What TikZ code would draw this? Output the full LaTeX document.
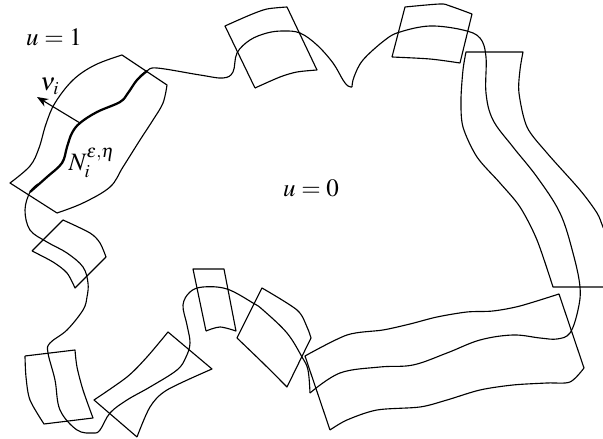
\documentclass[tikz,border=0pt]{standalone}
\usepackage{mathptmx}
\usetikzlibrary{arrows.meta}
\begin{document}
\begin{tikzpicture}[x=0.4pt,y=-0.4pt,line join=round,
  thinline/.style={line width=0.45pt},
  thickline/.style={line width=0.9pt},
  lbl/.style={inner sep=0pt}]
\useasboundingbox (0,0) rectangle (603,439);
\clip (0,0) rectangle (603,439);
% ---------- boxes ----------
% box 1 (N_i)
\draw[thinline] (57,213) -- (10,183)
  -- plot[smooth,tension=0.6] coordinates {(10,183) (30,166) (39,148) (46,124) (55,103) (73,80) (95,65) (122,55)}
  -- (167,85)
  -- plot[smooth,tension=0.6] coordinates {(167,85) (163,103) (153,120) (140,140) (123,167) (110,187) (83,203) (57,213)};
% box 2
\draw[thinline] (255,88) -- (225,26)
  -- plot[smooth] coordinates {(225,26) (250,15) (267,9) (287,7)}
  -- (317,70)
  -- plot[smooth] coordinates {(317,70) (297,72) (280,77) (255,88)};
% box 3
\draw[thinline] (392,57) -- (405,7)
  -- plot[smooth] coordinates {(405,7) (440,4) (450,6) (472,14)}
  -- (460,63)
  -- plot[smooth] coordinates {(460,63) (430,59) (392,57)};
% box 4 (right strip)
\draw[thinline] (620,287) -- (553,287)
  -- plot[smooth] coordinates {(553,287) (537,240) (520,207) (500,183) (477,157) (463,127) (461,100) (463,70) (466,52)}
  -- (523,52)
  -- plot[smooth] coordinates {(523,52) (520,70) (519,93) (527,127) (547,153) (580,190) (597,213) (603,227) (615,255)};
% box 5
\draw[thinline] (32,251) -- (63,220)
  -- plot[smooth] coordinates {(63,220) (90,233) (100,243) (106,257)}
  -- (75,288)
  -- plot[smooth] coordinates {(75,288) (67,273) (53,262) (32,251)};
% box 6
\draw[thinline] (25,356) -- (75,350)
  -- plot[smooth] coordinates {(75,350) (77,367) (83,390) (93,418)}
  -- (44,424)
  -- plot[smooth] coordinates {(44,424) (30,400) (26,377) (25,356)};
% box 7
\draw[thinline] (137,437) -- (94,400)
  -- plot[smooth] coordinates {(94,400) (127,377) (147,357) (168,332)}
  -- (212,369)
  -- plot[smooth] coordinates {(212,369) (167,390) (150,407) (137,437)};
% box 8
\draw[thinline] (206,331) -- (193,269) -- (224,269) -- (236,331)
  -- plot[smooth] coordinates {(236,331) (220,327) (206,331)};
% box 9
\draw[thinline] (237,338) -- (262,288)
  -- plot[smooth] coordinates {(262,288) (297,310) (307,327) (311,338)}
  -- (287,387)
  -- plot[smooth] coordinates {(287,387) (263,363) (237,338)};
% box 10 (long wavy strip)
\draw[thinline] (330,430) -- (305,356)
  -- plot[smooth] coordinates {(305,356) (347,335) (383,330) (410,324) (437,317) (467,312) (493,311) (520,306) (559,294)}
  -- (584,368)
  -- plot[smooth] coordinates {(584,368) (570,382) (547,383) (513,385) (480,390) (447,400) (420,407) (377,410) (347,420) (330,430)};
% ---------- main interface curve ----------
\draw[thinline] plot[smooth,tension=0.6] coordinates {(140,76) (147,71) (157,68) (200,75) (223,78) (233,72) (237,53) (250,40) (267,33) (283,31) (300,33) (317,45) (333,63) (343,80) (348,86) (352,87)};
\draw[thinline] plot[smooth,tension=0.6] coordinates {(352,87) (354,77) (363,60) (385,40) (400,32) (430,26) (463,30) (480,38) (486,57) (486,93) (493,120) (513,147) (537,177) (560,213) (573,253) (580,287) (578,310) (570,333) (557,339) (540,338) (513,335) (480,340) (447,353) (413,365) (380,367) (340,373) (310,393)};
\draw[thinline] plot[smooth,tension=0.6] coordinates {(310,393) (308,370) (302,357) (287,333) (263,310) (253,303) (227,289) (203,287) (190,292) (183,305) (187,325) (190,343) (186,357) (177,370) (150,387) (127,400) (110,413) (100,430) (93,433) (77,430) (60,410) (55,380) (48,353) (50,343) (67,330) (83,310) (87,297) (88,283) (83,267) (67,253) (47,242) (30,230) (25,210) (30,192) (38,184)};
\draw[thickline] plot[smooth,tension=0.6] coordinates {(30,192) (47,177) (62,163) (67,147) (72,133) (80,123) (97,112) (120,102) (128,93) (137,80) (147,71)};
% ---------- normal arrow ----------
\coordinate (foot) at (80,123);
\coordinate (tip) at (37,97);
\draw[thinline,-{Stealth[length=4.5pt,width=3.5pt]}] (foot) -- (tip);
% ---------- labels ----------
\node[lbl] (u1) at (54,37) {$u=1$};
\node[lbl] (u0) at (311,188) {$u=0$};
\node[lbl] (nu) at (50,86) {$\nu_i$};
\node[lbl] (N) at (92,163) {$N_i^{\varepsilon,\eta}$};
\end{tikzpicture}
\end{document}
